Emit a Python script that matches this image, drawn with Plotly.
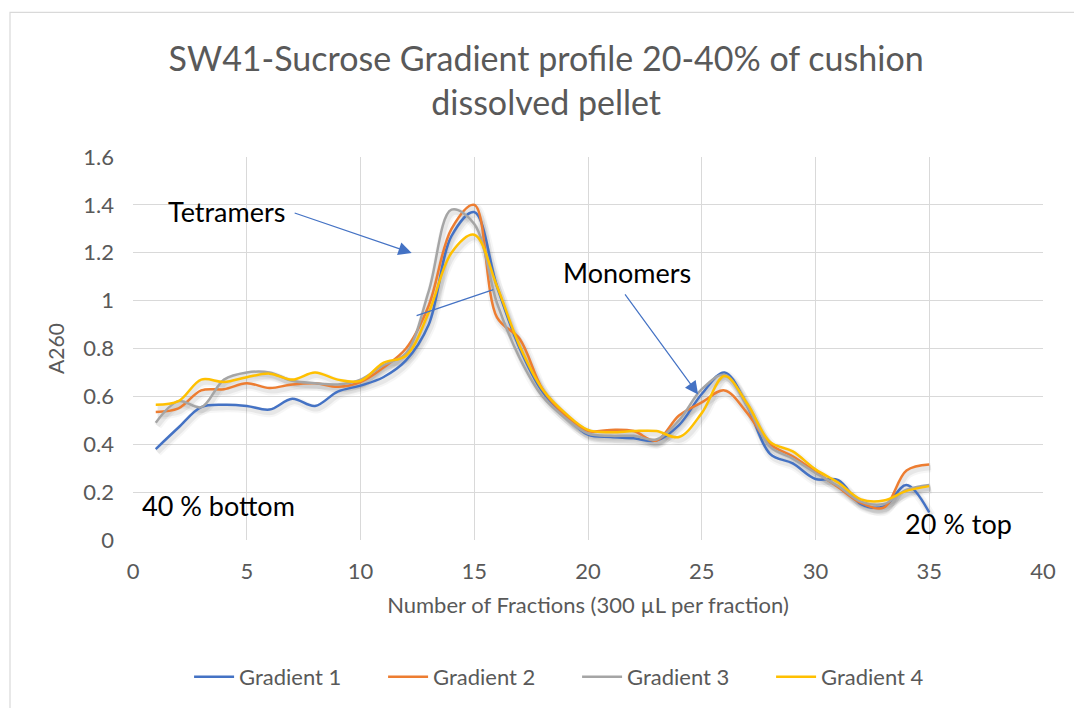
import plotly.graph_objects as go

# Fraction numbers (bottom of tube = 1)
fractions = list(range(1, 36))

# A260 readings per gradient
gradient_1 = [0.38, 0.47, 0.555, 0.565, 0.56, 0.545, 0.59, 0.56, 0.62, 0.645,
              0.68, 0.75, 0.90, 1.27, 1.37, 1.06, 0.80, 0.62, 0.52, 0.44,
              0.43, 0.425, 0.415, 0.48, 0.61, 0.70, 0.56, 0.36, 0.32, 0.255,
              0.25, 0.15, 0.14, 0.23, 0.115]
gradient_2 = [0.535, 0.55, 0.625, 0.63, 0.655, 0.635, 0.65, 0.655, 0.64, 0.66,
              0.72, 0.80, 0.98, 1.30, 1.40, 0.93, 0.84, 0.63, 0.52, 0.455,
              0.46, 0.455, 0.415, 0.52, 0.575, 0.625, 0.53, 0.40, 0.35, 0.285,
              0.22, 0.155, 0.135, 0.29, 0.315]
gradient_3 = [0.49, 0.58, 0.555, 0.67, 0.70, 0.70, 0.665, 0.655, 0.65, 0.67,
              0.73, 0.78, 1.04, 1.38, 1.32, 0.99, 0.76, 0.60, 0.51, 0.445,
              0.435, 0.435, 0.42, 0.50, 0.63, 0.69, 0.56, 0.39, 0.34, 0.28,
              0.225, 0.16, 0.15, 0.21, 0.23]
gradient_4 = [0.565, 0.58, 0.67, 0.66, 0.68, 0.695, 0.67, 0.70, 0.67, 0.665,
              0.74, 0.77, 0.95, 1.20, 1.275, 1.06, 0.81, 0.63, 0.53, 0.46,
              0.45, 0.455, 0.455, 0.43, 0.53, 0.685, 0.57, 0.41, 0.37, 0.295,
              0.24, 0.17, 0.165, 0.205, 0.225]

series_names = ["Gradient 1", "Gradient 2", "Gradient 3", "Gradient 4"]
series_colors = ["#4472C4", "#ED7D31", "#A5A5A5", "#FFC000"]
series_values = [gradient_1, gradient_2, gradient_3, gradient_4]

FONT = "Lato"
TEXT_GREY = "#595959"
GRID = "#D9D9D9"

fig = go.Figure()

# soft drop shadow under each line
for vals in series_values:
    for w, a in [(9, 0.035), (5, 0.06)]:
        fig.add_trace(go.Scatter(
            x=[f + 0.08 for f in fractions], y=[v - 0.013 for v in vals],
            mode="lines", line=dict(color=f"rgba(0,0,0,{a})", width=w,
                                    shape="spline", smoothing=1.0),
            showlegend=False, hoverinfo="skip"))

for name, color, vals in zip(series_names, series_colors, series_values):
    fig.add_trace(go.Scatter(
        x=fractions, y=vals, mode="lines", name=name,
        line=dict(color=color, width=2.5, shape="spline", smoothing=1.0)))

ann_font = dict(family=FONT, size=27, color="#000000")
arrow_color = "#4472C4"

annotations = [
    dict(x=1.45, y=1.372, text="Tetramers", showarrow=False,
         xanchor="left", yanchor="middle", font=ann_font),
    dict(x=18.8, y=1.117, text="Monomers", showarrow=False,
         xanchor="left", yanchor="middle", font=ann_font),
    dict(x=0.3, y=0.143, text="40 % bottom", showarrow=False,
         xanchor="left", yanchor="middle", font=ann_font),
    dict(x=33.85, y=0.067, text="20 % top", showarrow=False,
         xanchor="left", yanchor="middle", font=ann_font),
    # arrows
    dict(x=12.25, y=1.199, ax=7.04, ay=1.368, axref="x", ayref="y",
         text="", showarrow=True, arrowhead=2, arrowsize=2.2,
         arrowwidth=1.2, arrowcolor=arrow_color, standoff=0),
    dict(x=24.84, y=0.608, ax=21.58, ay=1.032, axref="x", ayref="y",
         text="", showarrow=True, arrowhead=2, arrowsize=2.2,
         arrowwidth=1.2, arrowcolor=arrow_color, standoff=0),
    dict(x=15.84, y=1.046, ax=12.40, ay=0.935, axref="x", ayref="y",
         text="", showarrow=True, arrowhead=0,
         arrowwidth=1.2, arrowcolor=arrow_color, standoff=0),
]

fig.update_layout(
    width=1074, height=708,
    margin=dict(l=133, r=31, t=157, b=167),
    paper_bgcolor="white", plot_bgcolor="white",
    title=dict(text="SW41-Sucrose Gradient profile 20-40% of cushion<br>dissolved pellet",
               x=0.5085, xanchor="center", y=1 - 71 / 708, yanchor="top",
               yref="container",
               font=dict(family=FONT, size=34, color=TEXT_GREY)),
    font=dict(family=FONT, color=TEXT_GREY),
    showlegend=True,
    legend=dict(orientation="h", x=0.488, xanchor="center",
                y=-0.354, yanchor="middle",
                font=dict(family=FONT, size=22, color=TEXT_GREY),
                entrywidth=139, itemwidth=40, tracegroupgap=0),
    annotations=annotations,
    shapes=[dict(type="rect", xref="paper", yref="paper",
                 x0=(10 - 133) / 910, x1=1.3, y0=-0.7, y1=(541 - 12) / 384,
                 line=dict(color=GRID, width=1.2), layer="below")],
)

fig.update_xaxes(range=[0, 40], dtick=5, tick0=0, showgrid=True,
                 gridcolor=GRID, gridwidth=1.3, zeroline=False,
                 showline=False, ticks="", ticklabelstandoff=16,
                 tickfont=dict(family=FONT, size=22, color=TEXT_GREY),
                 title=dict(text="Number of Fractions (300 µL per fraction)",
                            standoff=14,
                            font=dict(family=FONT, size=22, color=TEXT_GREY)))
fig.update_yaxes(range=[0, 1.6], dtick=0.2, tick0=0, showgrid=True,
                 gridcolor=GRID, gridwidth=1.3, zeroline=False,
                 showline=False, ticks="", ticklabelstandoff=18,
                 tickfont=dict(family=FONT, size=22, color=TEXT_GREY),
                 title=dict(text="A260", standoff=12,
                            font=dict(family=FONT, size=21, color=TEXT_GREY)))

fig.write_html("out.html")
